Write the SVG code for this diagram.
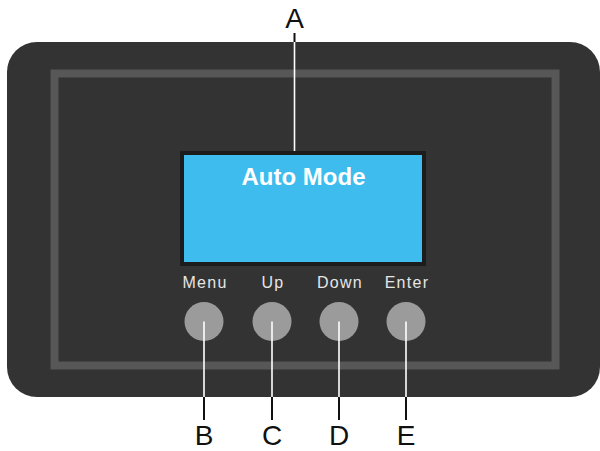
<svg xmlns="http://www.w3.org/2000/svg" width="600" height="451" viewBox="0 0 600 451">
<style>
.lbl{font-family:"Liberation Sans",Arial,sans-serif;font-size:28px;fill:#111;text-anchor:middle}
.btn-lbl{font-family:"Liberation Sans",Arial,sans-serif;font-size:16px;letter-spacing:1.3px;fill:#e6e6e6;text-anchor:middle}
.btn{fill:#9b9b9b}
.lead-w{stroke:#ffffff;stroke-width:1.6;fill:none}
.lead-b{stroke:#111;stroke-width:2;fill:none}
</style>
<rect width="600" height="451" fill="#ffffff"/>
<g id="panel">
<rect x="7" y="42" width="593" height="355" rx="30" fill="#333333"/>
<rect x="54.5" y="73.5" width="501" height="292" fill="none" stroke="#575757" stroke-width="8"/>
</g>
<g id="screen">
<rect x="182" y="153" width="242" height="111" fill="#3dbced" stroke="#1c1c1c" stroke-width="4"/>
<text x="303.5" y="185" font-family="Liberation Sans,Arial,sans-serif" font-size="24" font-weight="bold" fill="#ffffff" text-anchor="middle">Auto Mode</text>
</g>
<g id="menu"><text class="btn-lbl" x="205" y="288">Menu</text><circle class="btn" cx="204" cy="321.5" r="19.5"/></g>
<g id="up"><text class="btn-lbl" x="273" y="288">Up</text><circle class="btn" cx="272" cy="321.5" r="19.5"/></g>
<g id="down"><text class="btn-lbl" x="340" y="288">Down</text><circle class="btn" cx="339" cy="321.5" r="19.5"/></g>
<g id="enter"><text class="btn-lbl" x="407" y="288">Enter</text><circle class="btn" cx="406" cy="321.5" r="19.5"/></g>
<g id="connectors">
<line class="lead-b" x1="294.5" y1="33" x2="294.5" y2="42"/>
<line class="lead-w" x1="294.5" y1="42" x2="294.5" y2="151"/>
<line class="lead-w" x1="204" y1="321.5" x2="204" y2="397"/>
<line class="lead-b" x1="204" y1="397" x2="204" y2="420"/>
<line class="lead-w" x1="272" y1="321.5" x2="272" y2="397"/>
<line class="lead-b" x1="272" y1="397" x2="272" y2="420"/>
<line class="lead-w" x1="339" y1="321.5" x2="339" y2="397"/>
<line class="lead-b" x1="339" y1="397" x2="339" y2="420"/>
<line class="lead-w" x1="406" y1="321.5" x2="406" y2="397"/>
<line class="lead-b" x1="406" y1="397" x2="406" y2="420"/>
</g>
<g id="labels">
<text class="lbl" x="294.5" y="28">A</text>
<text class="lbl" x="204" y="445">B</text>
<text class="lbl" x="272" y="445">C</text>
<text class="lbl" x="339" y="445">D</text>
<text class="lbl" x="406" y="445">E</text>
</g>
</svg>
